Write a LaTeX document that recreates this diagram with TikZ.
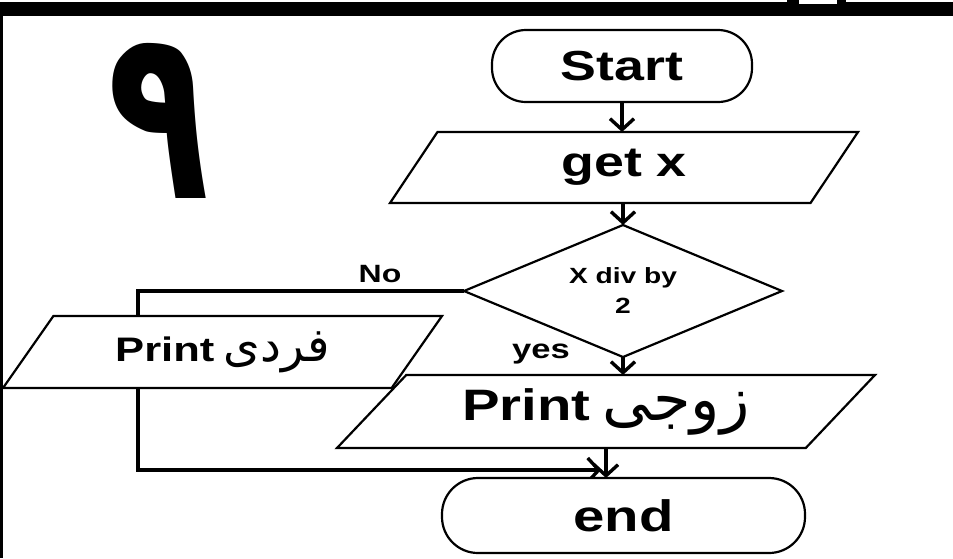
\documentclass[tikz,border=0pt]{standalone}
\usepackage{fontspec}
\setmainfont{Liberation Sans}
\newfontfamily\arabicfont[Script=Arabic]{DejaVu Sans}
\TeXXeTstate=1
\usetikzlibrary{shapes.geometric,arrows.meta}
\pgfdeclarelayer{back}
\pgfdeclarelayer{lines}
\pgfsetlayers{back,lines,main}
\newcommand\sx[1]{\scalebox{1.28}[1]{#1}}
\newcommand\artext[1]{\scalebox{1.38}{\arabicfont\mdseries\beginR #1\endR}}
\begin{document}
\begin{tikzpicture}[x=1pt,y=-1pt,
  every node/.style={inner sep=0pt,outer sep=0pt,font=\bfseries},
  outl/.style={draw=black,line width=2.2pt,fill=white},
  termbox/.style={outl,rounded corners=34pt},
  iobox/.style={outl,trapezium,trapezium stretches body},
  decbox/.style={outl,diamond,aspect=2.41},
  arr/.style={line width=3.2pt,-{Straight Barb[length=11pt,width=24pt,line width=3.4pt]}},
  lbl/.style={font=\bfseries\fontsize{25}{25}\selectfont}]
\useasboundingbox (0,0) rectangle (953,558);
\begin{pgfonlayer}{back}
  \fill[white] (0,0) rectangle (953,558);
  \fill[black] (0,0) rectangle (953,16);
  \fill[white] (0,0) rectangle (787,1.6);
  \fill[white] (846,0) rectangle (953,1.6);
  \fill[white] (799,0) rectangle (837,4);
  \fill[black] (0,16) rectangle (3.2,558);
\end{pgfonlayer}

\node (nine) at (159,121) {\resizebox{102pt}{155pt}{\arabicfont\bfseries ٩}};

\node[termbox,minimum width=260pt,minimum height=72pt] (start) at (622,66)
  {\fontsize{42}{42}\selectfont\sx{Start}};
\node[iobox,trapezium left angle=37.4,trapezium right angle=142.6,
  minimum width=468pt,minimum height=71pt] (getx) at (624,167.5)
  {\fontsize{42}{42}\selectfont\sx{get x}};
\node[decbox,minimum width=318pt,minimum height=132pt,align=center,
  font=\bfseries\fontsize{22}{30}\selectfont] (dec) at (623,291)
  {\sx{X div by}\\\sx{2}};
\node[lbl] (no) at (380,274) {\sx{No}};
\node[lbl,font=\bfseries\fontsize{27}{27}\selectfont] (yes) at (541,354) {\sx{yes}};
\node[iobox,trapezium left angle=39.3,trapezium right angle=140.7,
  minimum width=439pt,minimum height=72pt] (odd) at (222.5,352)
  {\fontsize{34}{34}\selectfont\sx{Print} \artext{فردی}};
\node[iobox,trapezium left angle=34,trapezium right angle=146,
  minimum width=538pt,minimum height=73pt] (even) at (606,411.5)
  {\fontsize{44}{44}\selectfont\sx{Print} \artext{زوجی}};
\node[termbox,rounded corners=36pt,minimum width=363pt,minimum height=75pt] (end) at (623.5,515.5)
  {\fontsize{44}{44}\selectfont\sx{end}};

\coordinate (corner) at (138,291);
\coordinate (join) at (138,470);
\coordinate (meet) at (601,470);
\begin{pgfonlayer}{lines}
  \draw[arr] (dec.west) -- (corner) -- (join) -- (meet);
\end{pgfonlayer}
\draw[arr] (start.south) -- (start.south |- getx.north);
\draw[arr] (getx.south -| dec.north) -- (dec.north);
\draw[arr] (dec.south) -- (dec.south |- even.north);
\draw[arr] (even.south) -- (even.south |- end.north);
\end{tikzpicture}
\end{document}
